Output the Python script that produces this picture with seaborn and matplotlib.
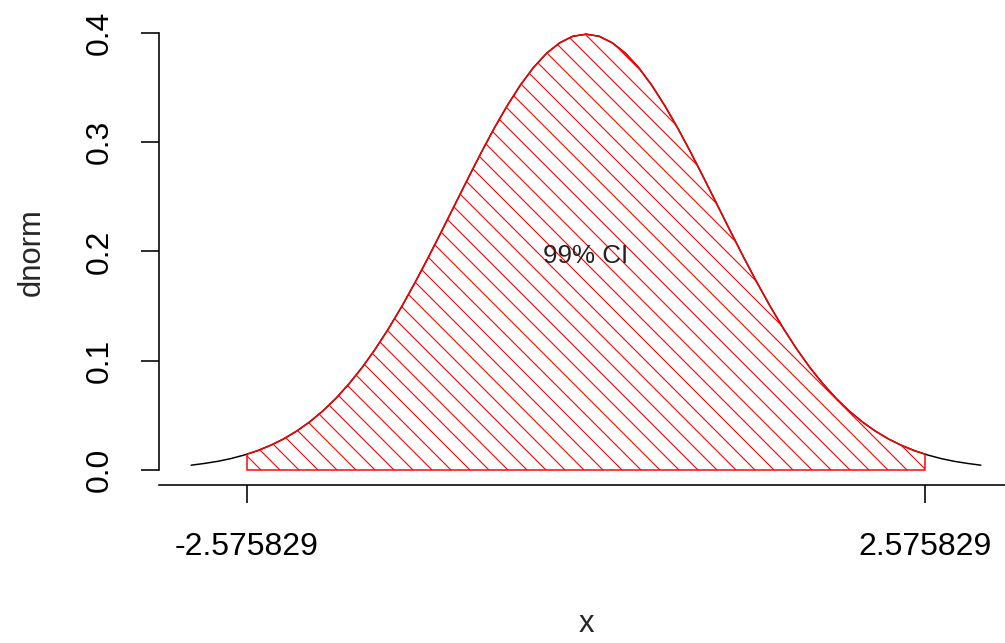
# plot.py  –  99% CI under the standard normal density (R-style base plot)

import numpy as np
import matplotlib
matplotlib.use("Agg")
import matplotlib.pyplot as plt
import matplotlib.transforms as mtransforms
import seaborn as sns


# ----------------------------------------------------------
# Data
# ----------------------------------------------------------
x_grid = np.linspace(-3.0, 3.0, 61)
dnorm_vals = [
    0.0044, 0.0060, 0.0079, 0.0104, 0.0136, 0.0175, 0.0224, 0.0283, 0.0355, 0.0440,
    0.0540, 0.0656, 0.0790, 0.0940, 0.1109, 0.1295, 0.1497, 0.1714, 0.1942, 0.2179,
    0.2420, 0.2661, 0.2897, 0.3123, 0.3332, 0.3521, 0.3683, 0.3814, 0.3910, 0.3970,
    0.3989,
    0.3970, 0.3910, 0.3814, 0.3683, 0.3521, 0.3332, 0.3123, 0.2897, 0.2661, 0.2420,
    0.2179, 0.1942, 0.1714, 0.1497, 0.1295, 0.1109, 0.0940, 0.0790, 0.0656, 0.0540,
    0.0440, 0.0355, 0.0283, 0.0224, 0.0175, 0.0136, 0.0104, 0.0079, 0.0060, 0.0044,
]
ci_bounds = [-2.575829, 2.575829]
ci_bound_density = 0.0145
ci_label = "99% CI"
ci_label_pos = (0.0, 0.2)
y_ticks = [0.0, 0.1, 0.2, 0.3, 0.4]
y_ticklabels = ["0.0", "0.1", "0.2", "0.3", "0.4"]
x_ticklabels = ["-2.575829", "2.575829"]


# ----------------------------------------------------------
# Layout helpers (pixel geometry of the reference)
# ----------------------------------------------------------
W, H, DPI = 1005, 643, 114
AX_L, AX_R, AX_T, AX_B = 159, 1013, 17, 485
X0_PX, X_SCALE = 586, 131.6          # pixel of x=0, pixels per unit
Y0_PX, Y_SCALE = 470, 1092.5         # pixel of y=0, pixels per unit


def px2pt(px):
    return px * 72.0 / DPI


def ax_frac_x(px):
    return (px - AX_L) / (AX_R - AX_L)


def ax_frac_y(py):
    return (AX_B - py) / (AX_B - AX_T)


# ----------------------------------------------------------
# Plot
# ----------------------------------------------------------
sns.set_style("ticks")
plt.rcParams["font.family"] = ["Liberation Sans", "DejaVu Sans"]
plt.rcParams["hatch.linewidth"] = 0.7

fig = plt.figure(figsize=((W + 0.01) / DPI, (H + 0.01) / DPI), dpi=DPI)
ax = fig.add_axes([AX_L / W, 1 - AX_B / H, (AX_R - AX_L) / W, (AX_B - AX_T) / H])

# density curve
sns.lineplot(x=x_grid, y=dnorm_vals, color="black", linewidth=px2pt(1.5), ax=ax)

# hatched CI polygon, red border drawn over the black curve
inside = (x_grid > ci_bounds[0]) & (x_grid < ci_bounds[1])
x_ci = np.concatenate([[ci_bounds[0]], x_grid[inside], [ci_bounds[1]]])
y_ci = np.concatenate([[ci_bound_density], np.array(dnorm_vals)[inside], [ci_bound_density]])
poly_x = np.concatenate([x_ci, [ci_bounds[1], ci_bounds[0]]])
poly_y = np.concatenate([y_ci, [0.0, 0.0]])
ax.fill(poly_x, poly_y, facecolor="none", edgecolor="red", hatch="\\\\",
        linewidth=px2pt(1.5), zorder=3)

# R centres text on the glyphs, matplotlib on the full line box -> nudge down
text_tr = mtransforms.offset_copy(ax.transData, fig=fig, x=0, y=-4, units="dots")
ax.text(ci_label_pos[0], ci_label_pos[1], ci_label, ha="center", va="center",
        fontsize=px2pt(26), color="#222222", zorder=4, transform=text_tr)

# limits matching the pixel mapping
ax.set_xlim((AX_L - X0_PX) / X_SCALE, (AX_R - X0_PX) / X_SCALE)
ax.set_ylim((Y0_PX - AX_B) / Y_SCALE, (Y0_PX - AX_T) / Y_SCALE)

# axes styling
for side in ["top", "right"]:
    ax.spines[side].set_visible(False)
ax.spines["left"].set_bounds(0, 0.4)
for side in ["left", "bottom"]:
    ax.spines[side].set_linewidth(px2pt(1.6))
    ax.spines[side].set_color("black")

ax.set_xticks(ci_bounds)
ax.set_xticklabels(x_ticklabels)
ax.set_yticks(y_ticks)
ax.set_yticklabels(y_ticklabels, rotation=90, va="center")

ax.tick_params(axis="both", direction="out", length=px2pt(18), width=px2pt(1.6),
               colors="black", labelsize=px2pt(32))
ax.tick_params(axis="x", pad=px2pt(29))
ax.tick_params(axis="y", pad=px2pt(26))

ax.set_xlabel("x", fontsize=px2pt(31))
ax.set_ylabel("dnorm", fontsize=px2pt(31))
ax.xaxis.set_label_coords(ax_frac_x(586), ax_frac_y(609))
ax.yaxis.set_label_coords(ax_frac_x(47), ax_frac_y(252))

fig.savefig("out.png", dpi=DPI)
plt.close(fig)
